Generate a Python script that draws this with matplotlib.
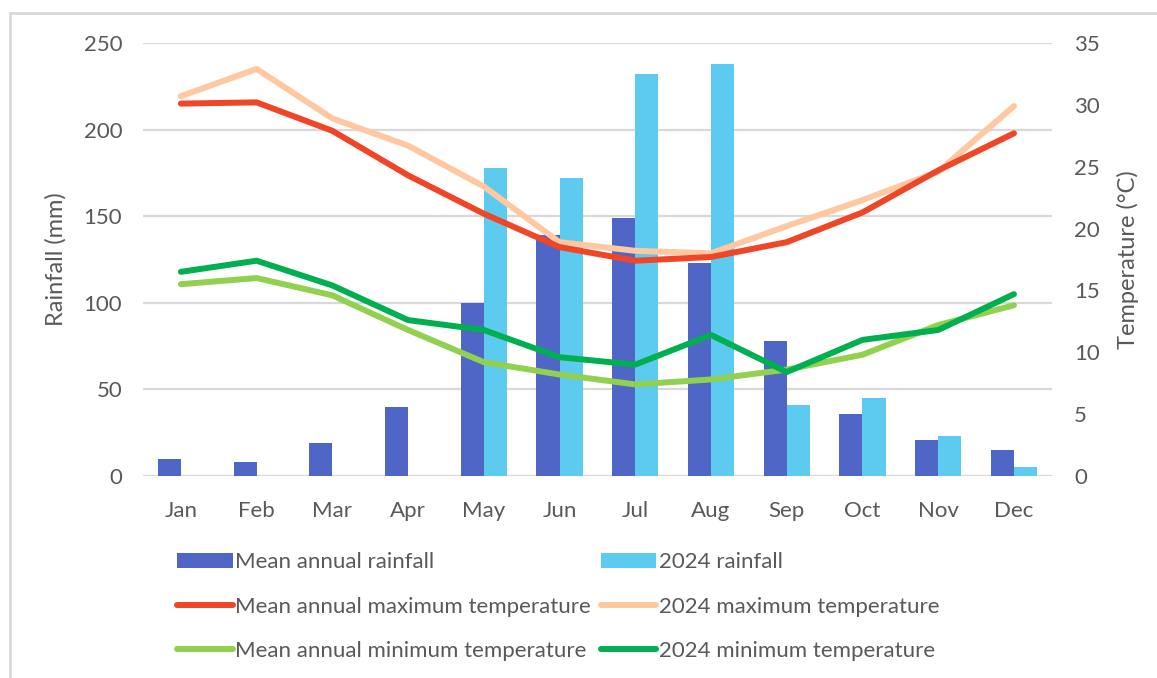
import matplotlib.pyplot as plt
import numpy as np
from matplotlib.lines import Line2D

months = ['Jan', 'Feb', 'Mar', 'Apr', 'May', 'Jun', 'Jul', 'Aug', 'Sep', 'Oct', 'Nov', 'Dec']
rain_mean = [10, 8, 19, 40, 100, 139, 149, 123, 78, 36, 21, 15]
rain_2024 = [0, 0, 0, 0, 178, 172, 232, 238, 41, 45, 23, 5]
tmax_mean = [30.1, 30.2, 27.9, 24.3, 21.2, 18.5, 17.4, 17.7, 18.9, 21.3, 24.7, 27.7]
tmax_2024 = [30.7, 32.9, 28.9, 26.7, 23.4, 18.9, 18.2, 18.0, 20.2, 22.3, 24.6, 29.9]
tmin_mean = [15.5, 16.0, 14.6, 11.8, 9.2, 8.2, 7.4, 7.8, 8.6, 9.8, 12.2, 13.8]
tmin_2024 = [16.5, 17.4, 15.4, 12.6, 11.8, 9.6, 9.0, 11.4, 8.4, 11.0, 11.8, 14.7]

plt.rcParams['font.family'] = ['Lato', 'DejaVu Sans']
txt = '#595959'
grid = '#d9d9d9'
fs = 16

fig = plt.figure(figsize=(11.57, 6.78), dpi=100)
ax = fig.add_axes([0.1236, 0.298, 0.7855, 0.6386])
ax2 = ax.twinx()

x = np.arange(len(months))
w = 0.305
b1 = ax.bar(x - w/2, rain_mean, w, color='#5066C7', label='Mean annual rainfall', zorder=2)
b2 = ax.bar(x + w/2, rain_2024, w, color='#5DCBF0', label='2024 rainfall', zorder=2)

lw = 4.3
l1, = ax2.plot(x, tmax_mean, color='#F04526', lw=lw, solid_capstyle='round', label='Mean annual maximum temperature')
l2, = ax2.plot(x, tmax_2024, color='#FFC8A0', lw=lw, solid_capstyle='round', label='2024 maximum temperature')
l3, = ax2.plot(x, tmin_mean, color='#92D050', lw=lw, solid_capstyle='round', label='Mean annual minimum temperature')
l4, = ax2.plot(x, tmin_2024, color='#00B050', lw=lw, solid_capstyle='round', label='2024 minimum temperature')
l1.set_zorder(3); l2.set_zorder(2); l4.set_zorder(4); l3.set_zorder(3)

ax.set_xlim(-0.5, 11.5)
ax.set_ylim(0, 250)
ax.set_yticks(range(0, 251, 50))
ax2.set_ylim(0, 35)
ax2.set_yticks(range(0, 36, 5))
ax.set_xticks(x)
ax.set_xticklabels(months)

ax.yaxis.grid(True, color=grid, lw=1.6, zorder=0)
ax.set_axisbelow(True)
for a in (ax, ax2):
    for s in a.spines.values():
        s.set_visible(False)
    a.tick_params(length=0, labelsize=fs, colors=txt)
ax.tick_params(axis='y', pad=15)
ax.tick_params(axis='x', pad=18)
ax2.tick_params(axis='y', pad=16)
ax2.set_zorder(ax.get_zorder() + 1)
ax2.patch.set_visible(False)

ax.set_ylabel('Rainfall (mm)', fontsize=fs + 1, color=txt, labelpad=12)
ax2.set_ylabel('Temperature (°C)', fontsize=fs + 1, color=txt, labelpad=12)

handles = [b1, l1, l3, b2, l2, l4]
labels = [h.get_label() for h in handles]
fig.legend(handles, labels, ncol=2, loc='upper left', bbox_to_anchor=(0.136, 0.215),
           frameon=False, fontsize=fs, labelcolor=txt, handlelength=2.5,
           handletextpad=0.1, columnspacing=0.45, labelspacing=1.1, handleheight=0.7)

# outer chart border
fig.add_artist(Line2D([10/1157, 10/1157], [0, 1 - 13/678], color='#d9d9d9', lw=2, transform=fig.transFigure))
fig.add_artist(Line2D([10/1157, 1], [1 - 13/678, 1 - 13/678], color='#d9d9d9', lw=2, transform=fig.transFigure))

fig.savefig('out.png', dpi=100, facecolor='white')
